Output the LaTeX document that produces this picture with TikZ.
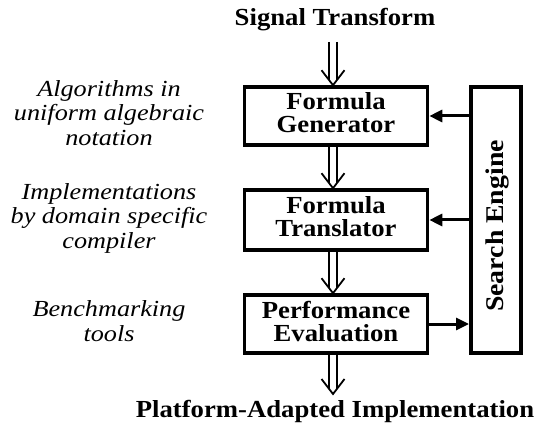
\documentclass[tikz,border=0pt]{standalone}
\usepackage{fontspec}
\setmainfont{Liberation Serif}
\newfontfamily\bfam{Liberation Serif}[FakeStretch=1.09]
\newfontfamily\ifam{Liberation Serif}[FakeStretch=1.14]
\usetikzlibrary{arrows.meta,calc}
\newcommand\lowstrut{\rule[-6pt]{0pt}{6pt}}
\newcommand\dblarrow[2]{%
  \draw[dbl] ($(#1)+(-3.7,0)$) -- ($(#2)+(-3.7,-5)$);
  \draw[dbl] ($(#1)+(3.7,0)$) -- ($(#2)+(3.7,-5)$);
  \draw[dbl,line join=miter] ($(#2)+(-11.5,-15)$) -- (#2) -- ($(#2)+(11.5,-15)$);
}
\begin{document}
\begin{tikzpicture}[x=1pt,y=-1pt,
  box/.style={draw, line width=3.6pt, minimum width=183pt, minimum height=58pt,
    inner sep=0pt, align=center, font=\bfam\bfseries\fontsize{24.5}{23}\selectfont},
  lbl/.style={font=\ifam\itshape\fontsize{23}{24.5}\selectfont, align=center, inner sep=0pt, anchor=base},
  ttl/.style={font=\bfam\bfseries\fontsize{24.5}{26}\selectfont, inner sep=0pt, anchor=base},
  arr/.style={line width=3pt, -{Triangle[length=13pt,width=12pt]}},
  dbl/.style={line width=1.8pt}]
\useasboundingbox (0,0) rectangle (534,427);

\node[ttl] (sig) at (335,26) {Signal Transform};
\node[ttl] (plat) at (335,417) {Platform-Adapted Implementation};

\node[box] (gen) at (336,116) {Formula\\Generator\lowstrut};
\node[box, minimum height=60pt] (trans) at (336,220) {Formula\\Translator\lowstrut};
\node[box] (perf) at (336,324) {Performance\\Evaluation\lowstrut};

\node[draw, line width=3.6pt, minimum width=50.4pt, minimum height=266pt, inner sep=0pt] (se) at (496,220) {};
\node[ttl, rotate=90, font=\bfam\bfseries\fontsize{25.5}{26}\selectfont] (setxt) at (503.3,226) {Search Engine};

\node[lbl] (l1) at (109,145.5) {Algorithms in\\uniform algebraic\\notation};
\node[lbl] (l2) at (109,248.3) {Implementations\\by domain specific\\compiler};
\node[lbl] (l3) at (109,341.2) {Benchmarking\\tools};

\coordinate (a0) at (333,42);
\path (a0 |- gen.north) coordinate (a1);
\path (a0 |- gen.south) coordinate (b0);
\path (a0 |- trans.north) coordinate (b1);
\path (a0 |- trans.south) coordinate (c0);
\path (a0 |- perf.north) coordinate (c1);
\path (a0 |- perf.south) coordinate (d0);
\coordinate (d1) at (333,394);

\dblarrow{a0}{a1}
\dblarrow{b0}{b1}
\dblarrow{c0}{c1}
\dblarrow{d0}{d1}

\draw[arr] (se.west |- gen.east) -- (gen.east);
\draw[arr] (se.west |- trans.east) -- (trans.east);
\draw[arr] (perf.east) -- (perf.east -| se.west);
\end{tikzpicture}
\end{document}
